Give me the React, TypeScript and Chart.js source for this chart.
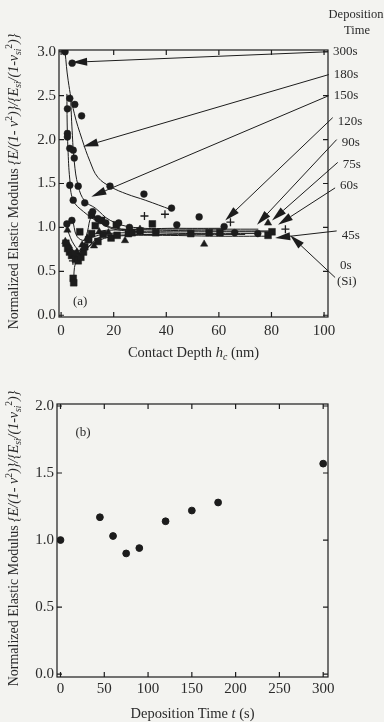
import React, { useEffect, useRef } from "react";
import { Chart, registerables } from "chart.js";

Chart.register(...registerables);

type Pt = [number, number];
type Seg = { t: string; it?: boolean; sub?: boolean; sup?: boolean };

// ---------------- Panel (a): modulus vs contact depth ----------------
const depthTicks = [0, 20, 40, 60, 80, 100];
const modulusTicksA = [0, 0.5, 1.0, 1.5, 2.0, 2.5, 3.0];

const circlesA: Pt[] = [
  [1.5, 3.0], [4.2, 2.87], [3.3, 2.47], [5.2, 2.4], [2.4, 2.35], [7.8, 2.27],
  [2.4, 2.07], [2.4, 2.03], [3.3, 1.9], [4.6, 1.88], [5.0, 1.79],
  [3.3, 1.48], [6.5, 1.47], [18.6, 1.47], [31.5, 1.38], [42, 1.22],
  [4.6, 1.31], [9, 1.28], [12, 1.18], [14, 1.1], [17, 1.05], [21.9, 1.05],
  [2.2, 1.04], [4.1, 1.08], [26, 1.0], [44, 1.03], [52.5, 1.12],
  [62, 1.01], [66, 0.94], [74.8, 0.93],
];
const squaresA: Pt[] = [
  [4.6, 0.42], [4.8, 0.37], [1.8, 0.82], [2.5, 0.76], [3.2, 0.72], [4.0, 0.68],
  [5.0, 0.7], [5.5, 0.64], [6.5, 0.62], [7.5, 0.66], [8.5, 0.72], [7.1, 0.95],
  [9, 0.78], [10.5, 0.86], [11.6, 0.93], [11.6, 1.14], [13, 1.02], [15.4, 1.08],
  [14, 0.84], [16, 0.92], [19, 0.88], [21, 1.03], [21.3, 0.91], [25.6, 0.93],
  [27, 0.94], [30, 0.96], [34.7, 1.04], [36, 0.94], [49.3, 0.93], [56.3, 0.94],
  [60.4, 0.94], [78.7, 0.91], [80.2, 0.95],
];
const trianglesA: Pt[] = [
  [2.4, 0.97], [1.6, 0.84], [3, 0.79], [6, 0.72], [8, 0.8], [10, 0.88],
  [12.5, 0.79], [14.5, 0.95], [18, 0.94], [24.3, 0.85], [30, 0.98],
  [54.4, 0.81], [78.7, 1.05],
];
const plusesA: Pt[] = [
  [4.5, 0.62], [31.7, 1.13], [39.5, 1.15], [64.4, 1.06], [85.3, 0.98],
];

// fitted curves drawn through the data families
const curve300: Pt[] = [
  [1.5, 3.0], [2.7, 2.67], [5, 2.3], [8, 2.0], [11, 1.75], [14, 1.57],
  [19, 1.46], [25, 1.38], [32, 1.31], [42, 1.2],
];
const curve180: Pt[] = [
  [2.2, 2.52], [2.3, 2.2], [2.6, 1.9], [3.3, 1.55], [4.6, 1.31], [8.5, 1.18],
  [15, 1.05], [21, 0.99], [35, 0.97], [60, 0.96], [80, 0.96],
];
const curve150: Pt[] = [
  [3.6, 2.48], [4.2, 2.1], [5, 1.75], [6.5, 1.47], [9, 1.3], [13, 1.22],
  [18.7, 1.08], [27.6, 1.0], [45, 0.99], [63, 0.99],
];
const curve120: Pt[] = [
  [4.7, 0.38], [5.5, 0.6], [7.5, 0.66], [10.5, 0.78], [15, 0.86], [21, 0.9],
  [35, 0.91], [60, 0.9], [79, 0.9],
];
const curve90: Pt[] = [
  [2.5, 0.76], [5, 0.68], [8, 0.75], [10, 0.95], [11.6, 1.12], [14, 1.08],
  [18, 1.0], [25, 0.96], [40, 0.95], [60, 0.95], [80, 0.95],
];
const curve75: Pt[] = [
  [1.6, 0.84], [3, 0.79], [6, 0.72], [10, 0.85], [14.5, 0.95], [20, 0.97],
  [30, 0.98], [50, 0.98], [75, 0.98],
];
const curve60: Pt[] = [
  [2.2, 1.04], [4.1, 1.08], [6, 0.9], [9, 0.85], [13, 0.9], [18, 0.93],
  [30, 0.94], [50, 0.93], [75, 0.93],
];
const curve45: Pt[] = [
  [2.4, 0.97], [5, 0.8], [8, 0.72], [11, 0.8], [14, 0.88], [21, 0.91],
  [40, 0.92], [70, 0.92],
];

const depositionLabels = ["300s", "180s", "150s", "120s", "90s", "75s", "60s", "45s", "0s"];
const labelLevel = [3.0, 2.74, 2.5, 2.21, 1.97, 1.72, 1.48, 0.91, 0.56];
const arrowFrom: Pt[] = [
  [101.5, 3.0], [101.8, 2.74], [101.8, 2.5], [103.3, 2.25], [104.8, 2.0],
  [105.2, 1.74], [104.2, 1.45], [104.8, 0.96], [104.2, 0.43],
];
const arrowTo: Pt[] = [
  [4.2, 2.88], [8.4, 1.92], [11.5, 1.35], [62.4, 1.08], [74.5, 1.03],
  [80.2, 1.08], [82.5, 1.03], [81.4, 0.88], [87.1, 0.91],
];
const siNote = "(Si)";
const siLevel = 0.38;

// ---------------- Panel (b): modulus vs deposition time ----------------
const depTimes = [0, 45, 60, 75, 90, 120, 150, 180, 300];
const modulusB = [1.0, 1.17, 1.03, 0.9, 0.94, 1.14, 1.22, 1.28, 1.57];
const timeTicks = [0, 50, 100, 150, 200, 250, 300];
const modulusTicksB = [0, 0.5, 1.0, 1.5, 2.0];

// ---------------- styling ----------------
const FONT = '"Liberation Serif", "Times New Roman", serif';
const INK = "#1c1c1c";
const TEXT = "#2a2a2a";
const PAPER = "#f3f3f0";

const yTitleSegs: Seg[] = [
  { t: "Normalized Elastic Modulus " },
  { t: "{E/(1- \u03bd", it: true },
  { t: "2", sup: true },
  { t: ")}/{E", it: true },
  { t: "si", it: true, sub: true },
  { t: "/(1-\u03bd", it: true },
  { t: "si", it: true, sub: true },
  { t: "2", sup: true },
  { t: ")}", it: true },
];
const xTitleA: Seg[] = [{ t: "Contact Depth " }, { t: "h", it: true }, { t: "c", it: true, sub: true }, { t: " (nm)" }];
const xTitleB: Seg[] = [{ t: "Deposition Time " }, { t: "t", it: true }, { t: " (s)" }];

function segFont(s: Seg, size: number) {
  const sz = s.sub || s.sup ? size * 0.68 : size;
  return `${s.it ? "italic " : ""}${sz}px ${FONT}`;
}
function drawRich(ctx: CanvasRenderingContext2D, segs: Seg[], cx: number, cy: number, size: number) {
  let w = 0;
  for (const s of segs) {
    ctx.font = segFont(s, size);
    w += ctx.measureText(s.t).width;
  }
  let x = cx - w / 2;
  const base = cy + size * 0.33;
  ctx.textAlign = "left";
  ctx.textBaseline = "alphabetic";
  for (const s of segs) {
    ctx.font = segFont(s, size);
    const dy = s.sub ? size * 0.25 : s.sup ? -size * 0.4 : 0;
    ctx.fillText(s.t, x, base + dy);
    x += ctx.measureText(s.t).width;
  }
}

function makeDecor(cfg: {
  xTicks: number[];
  yTicks: number[];
  xTitle: Seg[];
  xTitleOffset: number;
  yTitleX: number;
  tag: string;
  tagAt: Pt;
  arrows: boolean;
}) {
  return {
    id: "paperDecor",
    afterDraw(chart: any) {
      const ctx: CanvasRenderingContext2D = chart.ctx;
      const { left, right, top, bottom } = chart.chartArea;
      const xs = chart.scales.x;
      const ys = chart.scales.y;
      const TL = 5;
      ctx.save();
      ctx.strokeStyle = INK;
      ctx.fillStyle = TEXT;
      ctx.lineWidth = 1.2;
      ctx.strokeRect(left, top, right - left, bottom - top);
      ctx.beginPath();
      for (const v of cfg.xTicks) {
        const px = xs.getPixelForValue(v);
        ctx.moveTo(px, bottom); ctx.lineTo(px, bottom - TL);
        ctx.moveTo(px, top); ctx.lineTo(px, top + TL);
      }
      for (const v of cfg.yTicks) {
        const py = ys.getPixelForValue(v);
        ctx.moveTo(left, py); ctx.lineTo(left + TL, py);
        ctx.moveTo(right, py); ctx.lineTo(right - TL, py);
      }
      ctx.stroke();

      // axis titles
      ctx.fillStyle = TEXT;
      drawRich(ctx, cfg.xTitle, (left + right) / 2, bottom + cfg.xTitleOffset, 14.5);
      ctx.save();
      ctx.translate(cfg.yTitleX, (top + bottom) / 2 - 2);
      ctx.rotate(-Math.PI / 2);
      drawRich(ctx, yTitleSegs, 0, 0, 14);
      ctx.restore();

      // panel tag
      ctx.font = `13px ${FONT}`;
      ctx.textAlign = "left";
      ctx.textBaseline = "middle";
      ctx.fillText(cfg.tag, xs.getPixelForValue(cfg.tagAt[0]), ys.getPixelForValue(cfg.tagAt[1]));

      if (cfg.arrows) {
        ctx.lineWidth = 1;
        ctx.strokeStyle = INK;
        ctx.fillStyle = INK;
        for (let i = 0; i < depositionLabels.length; i++) {
          const x1 = xs.getPixelForValue(arrowFrom[i][0]);
          const y1 = ys.getPixelForValue(arrowFrom[i][1]);
          const x2 = xs.getPixelForValue(arrowTo[i][0]);
          const y2 = ys.getPixelForValue(arrowTo[i][1]);
          const ang = Math.atan2(y2 - y1, x2 - x1);
          const L = 15, H = 4;
          const bx = x2 - L * Math.cos(ang);
          const by = y2 - L * Math.sin(ang);
          ctx.beginPath();
          ctx.moveTo(x1, y1);
          ctx.lineTo(bx, by);
          ctx.stroke();
          ctx.beginPath();
          ctx.moveTo(x2, y2);
          ctx.lineTo(bx + H * Math.sin(ang), by - H * Math.cos(ang));
          ctx.lineTo(bx - H * Math.sin(ang), by + H * Math.cos(ang));
          ctx.closePath();
          ctx.fill();
        }
        ctx.fillStyle = TEXT;
        ctx.font = `13px ${FONT}`;
        ctx.textAlign = "left";
        ctx.textBaseline = "middle";
        for (let i = 0; i < depositionLabels.length; i++) {
          const x1 = Math.max(xs.getPixelForValue(arrowFrom[i][0]), right);
          ctx.fillText(depositionLabels[i], x1 + 5, ys.getPixelForValue(labelLevel[i]));
        }
        ctx.fillText(siNote, right + 9, ys.getPixelForValue(siLevel));
        ctx.textAlign = "center";
        ctx.font = `12.5px ${FONT}`;
        ctx.fillText("Deposition", right + 28, 15);
        ctx.fillText("Time", right + 29, 31);
      }
      ctx.restore();
    },
  };
}

function markers(data: Pt[], style: string, radius: number) {
  return {
    data: data.map(([x, y]) => ({ x, y })),
    showLine: false,
    pointStyle: style,
    pointRadius: radius,
    pointBackgroundColor: INK,
    pointBorderColor: INK,
    pointBorderWidth: style === "cross" ? 1.3 : 0.5,
    order: 1,
  };
}
function curve(data: Pt[]) {
  return {
    data: data.map(([x, y]) => ({ x, y })),
    showLine: true,
    borderColor: INK,
    borderWidth: 1,
    pointRadius: 0,
    tension: 0.4,
    fill: false,
    order: 2,
  };
}

function scaleOpts(min: number, max: number, ticks: number[], width: number | null, height: number | null, pad: number) {
  return {
    type: "linear",
    min,
    max,
    afterBuildTicks: (s: any) => {
      s.ticks = ticks.map((v) => ({ value: v }));
    },
    afterFit: (s: any) => {
      if (width !== null) s.width = width;
      if (height !== null) s.height = height;
    },
    grid: { display: false, drawTicks: false },
    border: { display: false },
    ticks: {
      autoSkip: false,
      maxRotation: 0,
      padding: pad,
      color: TEXT,
      font: { family: FONT, size: 15 },
      callback: (v: any) => (max > 10 ? String(v) : Number(v).toFixed(1)),
    },
  };
}

function PanelA() {
  const ref = useRef<HTMLCanvasElement | null>(null);
  useEffect(() => {
    if (!ref.current) return;
    const chart = new Chart(ref.current, {
      type: "scatter",
      data: {
        datasets: [
          markers(circlesA, "circle", 3.4),
          markers(squaresA, "rect", 4.8),
          markers(trianglesA, "triangle", 4.2),
          markers(plusesA, "cross", 4),
          curve(curve300),
          curve(curve180),
          curve(curve150),
          curve(curve120),
          curve(curve90),
          curve(curve75),
          curve(curve60),
          curve(curve45),
        ] as any,
      },
      options: {
        responsive: false,
        animation: false,
        layout: { padding: { left: 0, right: 56, top: 50, bottom: 0 } },
        plugins: { legend: { display: false }, tooltip: { enabled: false } },
        scales: {
          x: scaleOpts(-0.8, 101.5, depthTicks, null, 44, 5) as any,
          y: scaleOpts(-0.02, 3.02, modulusTicksA, 59, null, 3) as any,
        },
      },
      plugins: [
        makeDecor({
          xTicks: depthTicks,
          yTicks: modulusTicksA,
          xTitle: xTitleA,
          xTitleOffset: 35,
          yTitleX: 13,
          tag: "(a)",
          tagAt: [4.5, 0.15],
          arrows: true,
        }),
      ],
    });
    return () => chart.destroy();
  }, []);
  return <canvas ref={ref} width={384} height={361} style={{ position: "absolute", left: 0, top: 0 }} />;
}

function PanelB() {
  const ref = useRef<HTMLCanvasElement | null>(null);
  useEffect(() => {
    if (!ref.current) return;
    const chart = new Chart(ref.current, {
      type: "scatter",
      data: {
        datasets: [
          {
            data: depTimes.map((t, i) => ({ x: t, y: modulusB[i] })),
            pointStyle: "circle",
            pointRadius: 3.4,
            pointBackgroundColor: INK,
            pointBorderColor: INK,
            showLine: false,
          },
        ] as any,
      },
      options: {
        responsive: false,
        animation: false,
        layout: { padding: { left: 0, right: 56, top: 43, bottom: 0 } },
        plugins: { legend: { display: false }, tooltip: { enabled: false } },
        scales: {
          x: scaleOpts(-4, 305.5, timeTicks, null, 45, 3) as any,
          y: scaleOpts(-0.022, 2.015, modulusTicksB, 57, null, 3) as any,
        },
      },
      plugins: [
        makeDecor({
          xTicks: timeTicks,
          yTicks: modulusTicksB,
          xTitle: xTitleB,
          xTitleOffset: 36,
          yTitleX: 13,
          tag: "(b)",
          tagAt: [17, 1.8],
          arrows: false,
        }),
      ],
    });
    return () => chart.destroy();
  }, []);
  return <canvas ref={ref} width={384} height={361} style={{ position: "absolute", left: 0, top: 361 }} />;
}

export default function App() {
  return (
    <div style={{ position: "absolute", left: 0, top: 0, width: 384, height: 722, background: PAPER, overflow: "hidden" }}>
      <PanelA />
      <PanelB />
    </div>
  );
}
